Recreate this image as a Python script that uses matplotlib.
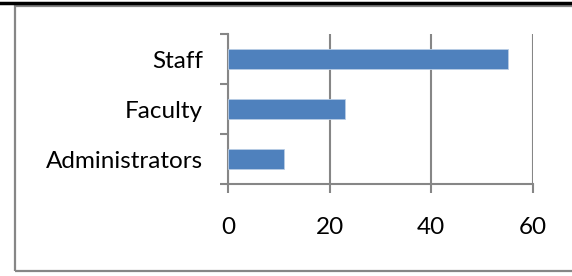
import matplotlib
matplotlib.use("Agg")
import matplotlib.pyplot as plt
from matplotlib.patches import Rectangle
from matplotlib.lines import Line2D
from matplotlib.ticker import FixedLocator

categories = ["Administrators", "Faculty", "Staff"]
values = [11, 23, 55]
x_ticks = [0, 20, 40, 60]

grey = "#868686"
blue = "#4F81BD"

plt.rcParams["font.family"] = ["Lato", "DejaVu Sans"]

W, H = 572, 276
fig = plt.figure(figsize=(W / 100, H / 100), dpi=100)

# outer chart frame (grey) and the black rule at the very top
fig.patches.append(Rectangle((15 / W, 1 - 271 / H), 1.0, (271 - 6) / H,
                             transform=fig.transFigure, fill=False,
                             edgecolor=grey, linewidth=1.6))
fig.lines.append(Line2D([0, 1], [1 - 2.5 / H, 1 - 2.5 / H],
                        transform=fig.transFigure, color="black", linewidth=2.5))

ax = fig.add_axes([228 / W, 1 - 184 / H, (533 - 228) / W, (184 - 34) / H])

ax.barh(range(len(categories)), values, height=0.4, color=blue,
        edgecolor="#B9CDE5", linewidth=0.6, zorder=3)

ax.set_xlim(0, 60)
ax.set_ylim(-0.5, len(categories) - 0.5)
ax.set_xticks(x_ticks)
ax.set_yticks(range(len(categories)))
ax.set_yticklabels(categories)
ax.yaxis.set_minor_locator(FixedLocator([-0.5, 0.5, 1.5, 2.5]))

ax.grid(axis="x", color=grey, linewidth=1.5, zorder=0)
for s in ["top", "right"]:
    ax.spines[s].set_visible(False)
for s in ["left", "bottom"]:
    ax.spines[s].set_color(grey)
    ax.spines[s].set_linewidth(1.5)

ax.tick_params(axis="y", which="major", length=0, pad=25 / 1.389, labelsize=17.5)
ax.tick_params(axis="y", which="minor", length=8 / 1.389, width=1.5, color=grey)
ax.tick_params(axis="x", length=9 / 1.389, width=1.5, color=grey,
               pad=24 / 1.389, labelsize=17.5)

fig.savefig("out.png", dpi=100)
